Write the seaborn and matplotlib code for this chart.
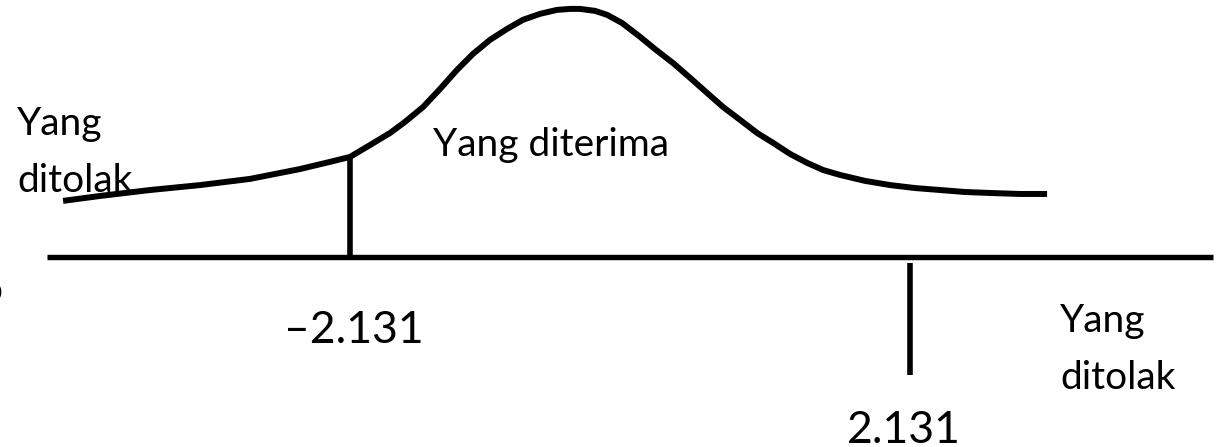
import matplotlib
matplotlib.use("Agg")
import matplotlib.pyplot as plt
import pandas as pd
import seaborn as sns

# Sketch of the t distribution with the acceptance / rejection regions
# x: t value, y: relative height of the density curve (peak = 1)
curve_t = [-4.315, -4.033, -3.653, -3.272, -2.892, -2.511, -2.283, -2.131,
           -1.979, -1.826, -1.712, -1.575, -1.446, -1.317, -1.195, -1.065,
           -0.936, -0.814, -0.685, -0.556, -0.457, -0.381, -0.266, -0.175,
           -0.061, 0.076, 0.198, 0.327, 0.457, 0.586, 0.708, 0.837, 0.967,
           1.088, 1.218, 1.347, 1.469, 1.598, 1.788, 1.979, 2.169, 2.359,
           2.549, 2.740, 2.968, 3.174]
curve_h = [0.227, 0.247, 0.271, 0.291, 0.316, 0.356, 0.385, 0.405,
           0.453, 0.502, 0.547, 0.607, 0.680, 0.757, 0.822, 0.879,
           0.923, 0.960, 0.984, 1.000, 1.004, 1.004, 0.996, 0.980,
           0.947, 0.891, 0.838, 0.785, 0.725, 0.664, 0.607, 0.555, 0.502,
           0.462, 0.417, 0.381, 0.352, 0.332, 0.308, 0.291, 0.279, 0.271,
           0.263, 0.259, 0.255, 0.255]

t_crit = [-2.131, 2.131]
crit_labels = ["\u20132.131", "2.131"]
axis_range = [-4.44, 4.44]

region_reject = ["Yang", "ditolak"]
region_accept = "Yang diterima"

sns.set_theme(style="white")
plt.rcParams["font.family"] = ["Lato", "DejaVu Sans"]

fig = plt.figure(figsize=(12.25, 4.47), dpi=100)
ax = fig.add_axes([0, 0, 1, 1])
ax.set_xlim(-4.795, 4.528)
ax.set_ylim(-0.769, 1.040)
ax.axis("off")

df = pd.DataFrame({"t": curve_t, "h": curve_h})
sns.lineplot(data=df, x="t", y="h", ax=ax, color="black", lw=4.3,
             estimator=None, sort=False, solid_capstyle="butt",
             solid_joinstyle="round")

# horizontal axis
sns.lineplot(x=axis_range, y=[0.0, 0.0], ax=ax, color="black", lw=3.9,
             estimator=None, solid_capstyle="butt")

# critical value markers: left one rises to the curve, right one hangs below
h_left = curve_h[curve_t.index(t_crit[0])]
ax.plot([t_crit[0], t_crit[0]], [0.0, h_left], color="black", lw=4.0,
        solid_capstyle="butt")
ax.plot([t_crit[1], t_crit[1]], [-0.024, -0.478], color="black", lw=4.0,
        solid_capstyle="butt")

txt = dict(color="black", fontsize=28, va="baseline")
num = dict(color="black", fontsize=32, va="baseline", ha="center")

ax.text(-4.665, 0.494, region_reject[0], ha="left", **txt)
ax.text(-4.665, 0.263, region_reject[1], ha="left", **txt)
ax.text(-1.499, 0.409, region_accept, ha="left", **txt)
ax.text(3.272, -0.304, region_reject[0], ha="left", **txt)
ax.text(3.272, -0.534, region_reject[1], ha="left", **txt)
ax.text(-4.947, -0.182, "o", ha="left", **txt)

ax.text(t_crit[0] + 0.03, -0.348, crit_labels[0], **num)
ax.text(t_crit[1] - 0.045, -0.753, crit_labels[1], **num)

fig.savefig("out.png", dpi=100, facecolor="white")
